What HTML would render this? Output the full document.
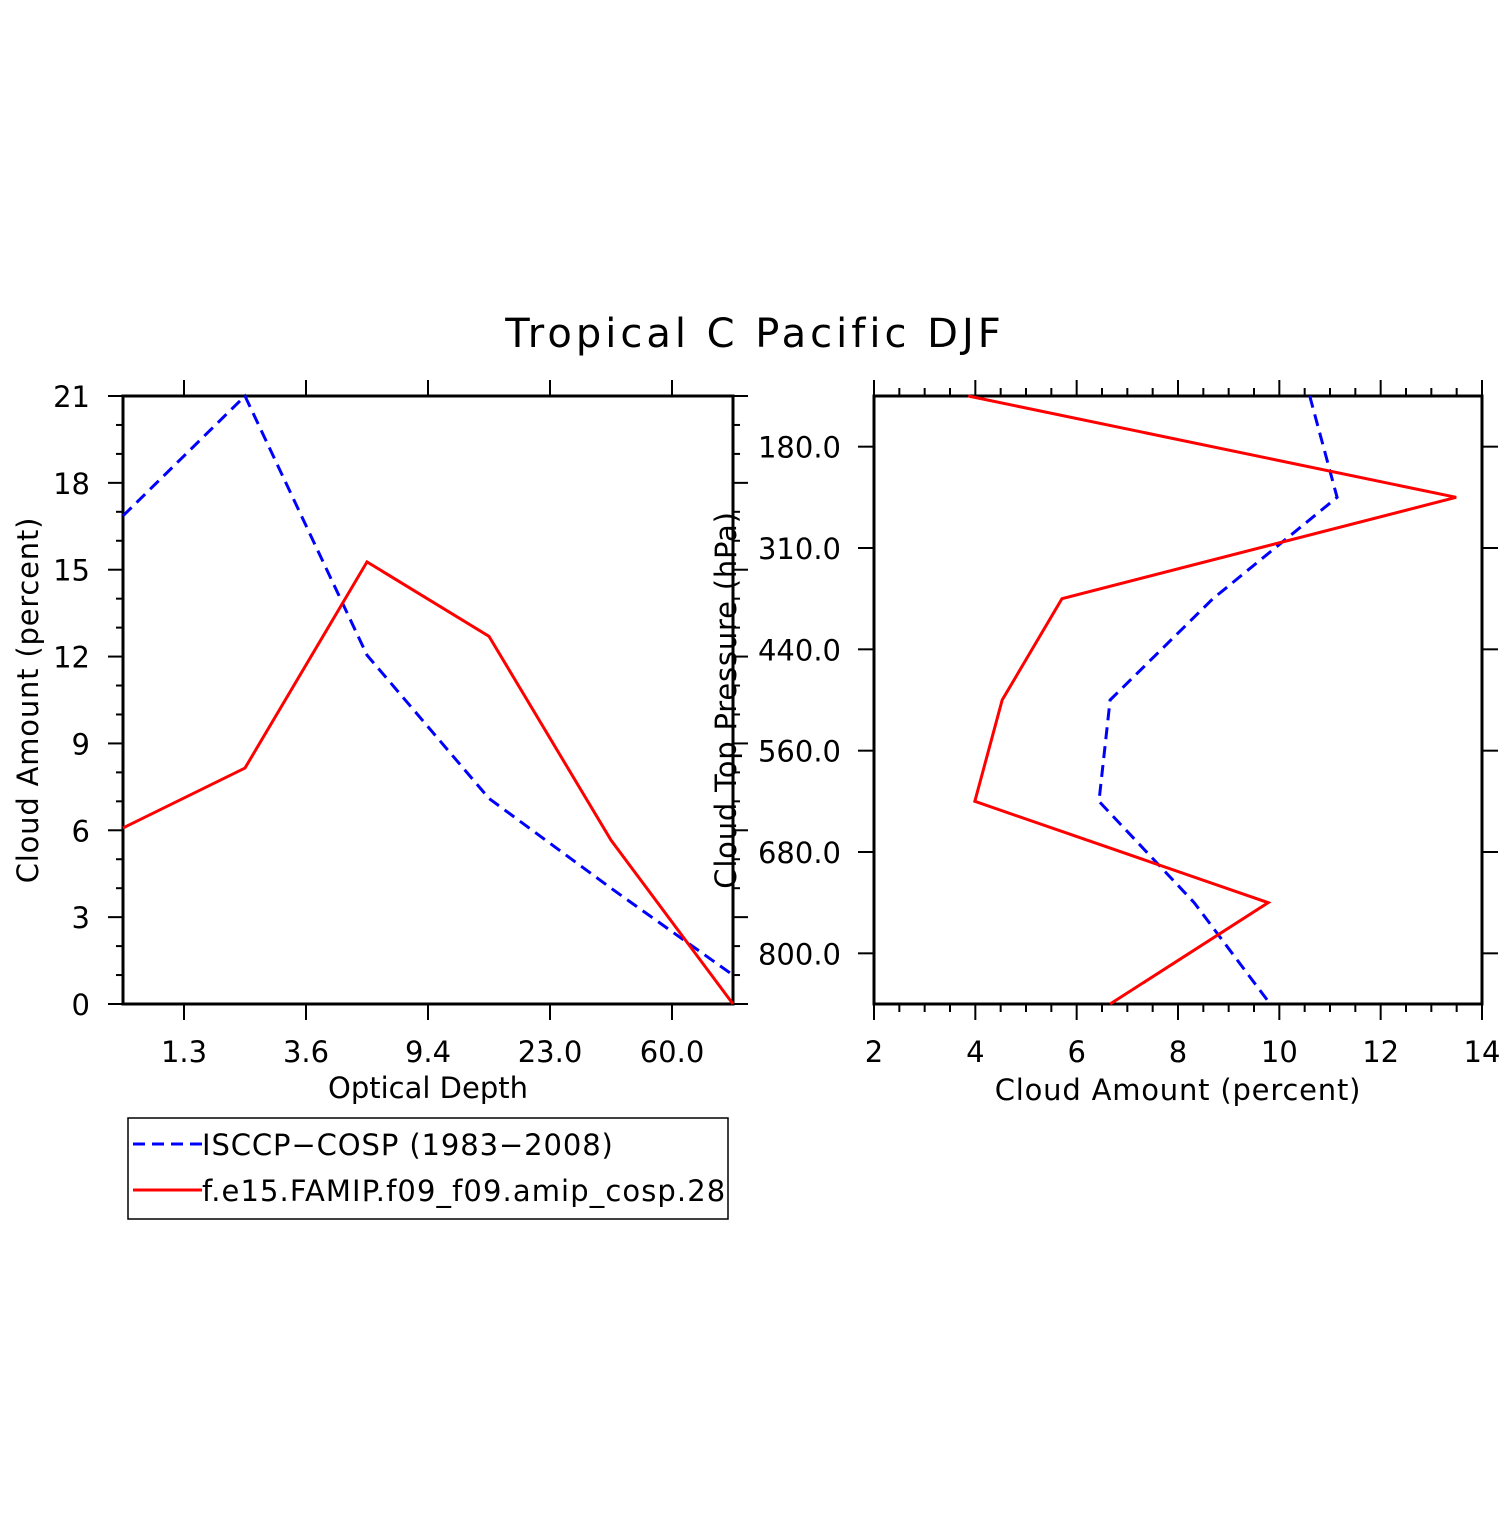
<!DOCTYPE html>
<html><head><meta charset="utf-8"><style>
body{margin:0;background:#fff}
svg text{font-family:"DejaVu Sans","Liberation Sans",sans-serif;fill:#000}
</style></head><body>
<svg id="c" width="1510" height="1510" viewBox="0 0 1510 1510" xmlns="http://www.w3.org/2000/svg">
<text x="755" y="347" font-size="40" text-anchor="middle" letter-spacing="4">Tropical C Pacific DJF</text>
<g id="L"></g><g id="R"></g>
<g>
<rect x="128" y="1118" width="600" height="101" fill="none" stroke="#000" stroke-width="1.5"/>
<line x1="133" y1="1144" x2="202" y2="1144" stroke="#0000ff" stroke-width="3" stroke-dasharray="12,7"/>
<text x="202" y="1155" font-size="29" letter-spacing="0.9">ISCCP−COSP (1983−2008)</text>
<line x1="133" y1="1190" x2="202" y2="1190" stroke="#ff0000" stroke-width="3"/>
<text x="202" y="1201" font-size="29" letter-spacing="1.1">f.e15.FAMIP.f09_f09.amip_cosp.28</text>
</g>
</svg>
<script>
const leftCats=[0,1,2,3,4,5];
const leftTickLabels=["1.3","3.6","9.4","23.0","60.0"];
const leftObs=[16.86,21.0,12.05,7.1,4.0,1.0];
const leftModel=[6.08,8.15,15.27,12.7,5.66,0];
const rightLevels=[0,1,2,3,4,5,6];
const rightTickLabels=["180.0","310.0","440.0","560.0","680.0","800.0"];
const rightObs=[10.6,11.14,8.69,6.66,6.44,8.32,9.82];
const rightModel=[3.86,13.49,5.71,4.53,3.99,9.78,6.66];

const NS="http://www.w3.org/2000/svg";
function mk(parent,tag,attrs){const e=document.createElementNS(NS,tag);for(const k in attrs)e.setAttribute(k,attrs[k]);parent.appendChild(e);return e;}
function ln(p,x1,y1,x2,y2,w){const e=mk(p,'line',{x1,y1,x2,y2,stroke:'#000','stroke-width':w||2});

return e;}
function txt(p,x,y,s,size,anchor,name){const e=mk(p,'text',{x,y,'font-size':size,'text-anchor':anchor||'middle'});e.textContent=s;

return e;}

// Left panel
const L=document.getElementById('L');
const lx0=123,lx1=733,ly0=1004,ly1=396;
const lX=i=>lx0+(lx1-lx0)*i/5, lY=v=>ly0-(ly0-ly1)*v/21;
for(let v=0;v<=21;v++){const maj=v%3===0,len=maj?15:7;
 ln(L,lx0-len,lY(v),lx0,lY(v));ln(L,lx1,lY(v),lx1+len,lY(v));
 if(maj)txt(L,lx0-33,lY(v)+11,String(v),29,'end','y-tick-label');}
leftTickLabels.forEach((s,i)=>{const x=lX(i+0.5);ln(L,x,ly1-16,x,ly1);ln(L,x,ly0,x,ly0+16);
 txt(L,x,1062,s,29,'middle','x-tick-label');});
const lb=mk(L,'rect',{x:lx0,y:ly1,width:lx1-lx0,height:ly0-ly1,fill:'none',stroke:'#000','stroke-width':3});


const xt=txt(L,428,1098,'Optical Depth',29,'middle','x-axis-title');
const yt=txt(L,0,0,'Cloud Amount (percent)',29,'middle','y-axis-title');yt.setAttribute('transform','translate(38,700) rotate(-90)');yt.setAttribute('letter-spacing','0.8');
const lo=mk(L,'polyline',{points:leftCats.map((c,i)=>lX(c)+','+lY(leftObs[i])).join(' '),fill:'none',stroke:'#0000ff','stroke-width':3,'stroke-dasharray':'12,7'});


const lm=mk(L,'polyline',{points:leftCats.map((c,i)=>lX(c)+','+lY(leftModel[i])).join(' '),fill:'none',stroke:'#ff0000','stroke-width':3});



// Right panel
const R=document.getElementById('R');
const rx0=874,rx1=1482,ry0=396,ry1=1004;
const rX=v=>rx0+(rx1-rx0)*(v-2)/12, rY=i=>ry0+(ry1-ry0)*i/6;
for(let k=0;k<=24;k++){const v=2+k*0.5,maj=k%4===0,len=maj?16:8;
 ln(R,rX(v),ry0-len,rX(v),ry0);ln(R,rX(v),ry1,rX(v),ry1+len);
 if(maj)txt(R,rX(v),1062,String(v),29,'middle','x-tick-label');}
rightTickLabels.forEach((s,i)=>{const y=rY(i+0.5);ln(R,rx0-16,y,rx0,y);ln(R,rx1,y,rx1+16,y);
 txt(R,rx0-33,y+11,s,29,'end','y-tick-label');});
const rb=mk(R,'rect',{x:rx0,y:ry0,width:rx1-rx0,height:ry1-ry0,fill:'none',stroke:'#000','stroke-width':3});


const xt2=txt(R,1178,1100,'Cloud Amount (percent)',29,'middle','x-axis-title');xt2.setAttribute('letter-spacing','0.8');
const yt2=txt(R,0,0,'Cloud Top Pressure (hPa)',29,'middle','y-axis-title');yt2.setAttribute('transform','translate(736,700) rotate(-90)');yt2.setAttribute('letter-spacing','0.8');
const ro=mk(R,'polyline',{points:rightLevels.map((c,i)=>rX(rightObs[i])+','+rY(c)).join(' '),fill:'none',stroke:'#0000ff','stroke-width':3,'stroke-dasharray':'12,7'});


const rm=mk(R,'polyline',{points:rightLevels.map((c,i)=>rX(rightModel[i])+','+rY(c)).join(' '),fill:'none',stroke:'#ff0000','stroke-width':3});


</script>
</body></html>
